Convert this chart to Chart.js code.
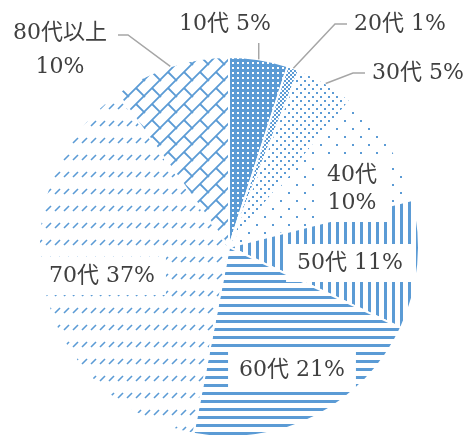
<!DOCTYPE html>
<html>
<head>
<meta charset="utf-8">
<script src="https://cdn.jsdelivr.net/npm/chart.js@4.4.1/dist/chart.umd.min.js"></script>
<style>
  html, body { margin: 0; padding: 0; background: #fff; }
  #wrap { width: 467px; height: 439px; position: relative; }
</style>
</head>
<body>
<div id="wrap"><canvas id="ageChart"></canvas></div>
<script>
// ===== data =====
const ageGroups = ['10代', '20代', '30代', '40代', '50代', '60代', '70代', '80代以上'];
const shares = [5, 1, 5, 10, 11, 21, 37, 10];

const BLUE = '#5b9bd5';
const TEXT = '#404040';
const FONT = '22px "DejaVu Serif", "Noto Sans CJK JP", serif';

// pattern fills (Excel-like hatches)
function makePattern(w, h, draw) {
  const c = document.createElement('canvas');
  c.width = w; c.height = h;
  const g = c.getContext('2d');
  g.fillStyle = '#fff';
  g.fillRect(0, 0, w, h);
  g.fillStyle = BLUE;
  g.strokeStyle = BLUE;
  draw(g);
  return g.createPattern(c, 'repeat');
}

const patterns = [
  // 10代 - blue with small white squares
  makePattern(5, 5, g => { g.fillRect(0, 0, 5, 5); g.fillStyle = '#fff'; g.fillRect(2, 2, 2, 2); }),
  // 20代 - fine checker
  makePattern(4, 4, g => { g.fillRect(0, 0, 2, 2); g.fillRect(2, 2, 2, 2); }),
  // 30代 - dense dots
  makePattern(8, 8, g => { g.fillRect(0, 0, 2, 2); g.fillRect(4, 4, 2, 2); }),
  // 40代 - sparse dots
  makePattern(16, 16, g => { g.fillRect(0, 0, 2, 2); g.fillRect(8, 8, 2, 2); }),
  // 50代 - vertical lines
  makePattern(8, 8, g => g.fillRect(0, 0, 3, 8)),
  // 60代 - horizontal lines
  makePattern(8, 8, g => g.fillRect(0, 0, 8, 3)),
  // 70代 - dashed up diagonal
  makePattern(9, 17, g => { g.lineWidth = 1.6; g.beginPath(); g.moveTo(1, 7); g.lineTo(6, 2); g.stroke(); }),
  // 80代以上 - diagonal brick
  makePattern(16, 16, g => {
    g.lineWidth = 1.8;
    g.beginPath();
    g.moveTo(-2, 18); g.lineTo(18, -2);
    g.moveTo(-2, 2); g.lineTo(2, -2);
    g.moveTo(14, 18); g.lineTo(18, 14);
    g.moveTo(8, 8); g.lineTo(17, 17);
    g.moveTo(-1, -1); g.lineTo(1, 1);
    g.stroke();
  })
];

// label placement, offsets from the pie centre (px)
const labelLayout = [
  { at: [-4, -223], leader: 'up', upTo: -204 },
  { at: [171, -223], leader: [[106, -223], [118, -223]] },
  { at: [189, -174], leader: [[124, -174], [136, -174]] },
  { at: [123, -58], split: true, gap: 28, box: true },
  { at: [121, 16], box: true },
  { at: [63, 123], box: true },
  { at: [-127, 29], box: true },
  { at: [-169, -197], split: true, gap: 34, leader: [[-101, -212], [-111, -212]] }
];

const pieLabels = {
  id: 'pieLabels',
  afterDatasetsDraw(chart) {
    const ctx = chart.ctx;
    const arcs = chart.getDatasetMeta(0).data;
    ctx.save();
    ctx.font = FONT;
    ctx.textAlign = 'center';
    ctx.textBaseline = 'middle';
    arcs.forEach((arc, i) => {
      const lay = labelLayout[i];
      const { x, y, startAngle, endAngle, outerRadius } = arc.getProps(['x', 'y', 'startAngle', 'endAngle', 'outerRadius'], true);
      const mid = (startAngle + endAngle) / 2;
      const ex = x + Math.cos(mid) * outerRadius;
      const ey = y + Math.sin(mid) * outerRadius;

      // leader line
      if (lay.leader) {
        ctx.strokeStyle = '#a6a6a6';
        ctx.lineWidth = 1.5;
        ctx.beginPath();
        ctx.moveTo(ex, ey);
        if (lay.leader === 'up') {
          ctx.lineTo(ex, y + lay.upTo);
        } else {
          lay.leader.forEach(p => ctx.lineTo(x + p[0], y + p[1]));
        }
        ctx.stroke();
      }

      const lines = lay.split ? [ageGroups[i], shares[i] + '%'] : [ageGroups[i] + ' ' + shares[i] + '%'];
      const gap = lay.gap || 0;
      const cx = x + lay.at[0];
      const cy = y + lay.at[1];

      if (lay.box) {
        const w = Math.max(...lines.map(t => ctx.measureText(t).width)) + 22;
        const h = 22 + gap * (lines.length - 1) + 16;
        ctx.fillStyle = '#fff';
        ctx.fillRect(cx - w / 2, cy - h / 2, w, h);
      }

      ctx.fillStyle = TEXT;
      lines.forEach((t, k) => {
        const ly = cy + (k - (lines.length - 1) / 2) * gap;
        ctx.fillText(t, cx, ly);
      });
    });
    ctx.restore();
  }
};

new Chart(document.getElementById('ageChart'), {
  type: 'pie',
  data: {
    labels: ageGroups,
    datasets: [{
      data: shares,
      backgroundColor: patterns,
      borderColor: '#ffffff',
      borderWidth: 2
    }]
  },
  options: {
    responsive: true,
    maintainAspectRatio: false,
    animation: false,
    layout: { padding: { top: 56, bottom: 1, left: 38, right: 47 } },
    plugins: { legend: { display: false }, tooltip: { enabled: false } }
  },
  plugins: [pieLabels]
});
</script>
</body>
</html>
